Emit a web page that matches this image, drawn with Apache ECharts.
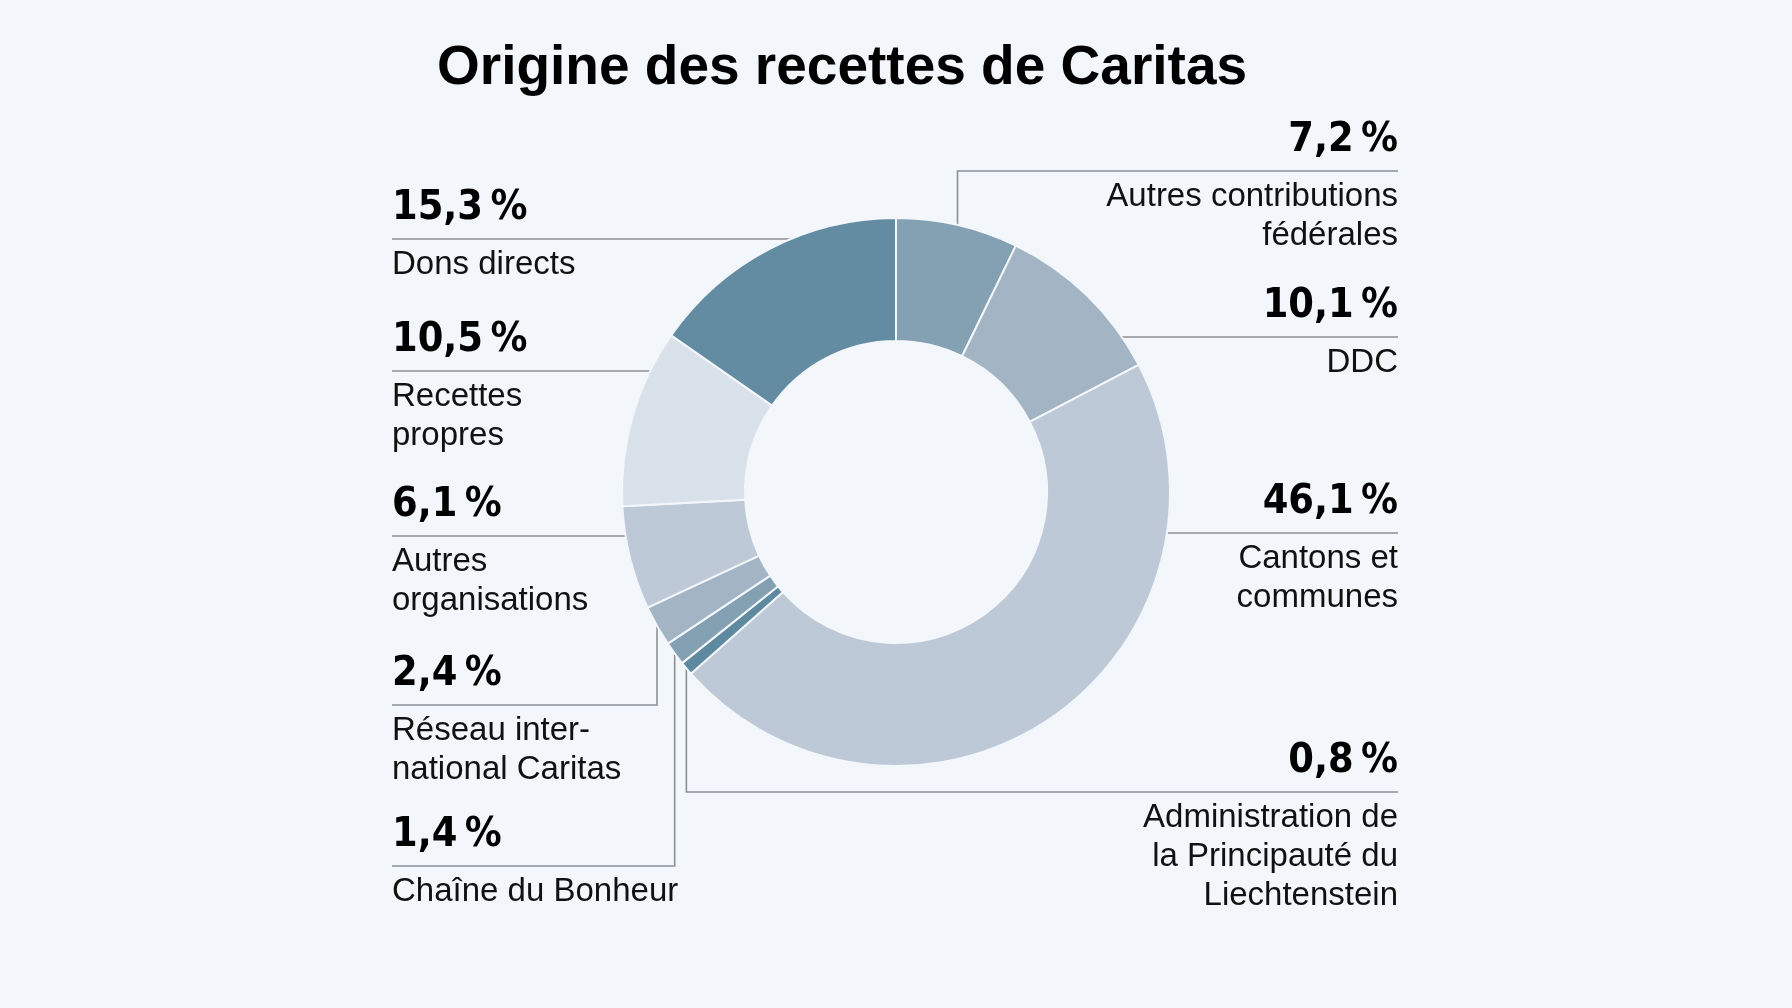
<!DOCTYPE html>
<html>
<head>
<meta charset="utf-8">
<title>Origine des recettes de Caritas</title>
<script src="https://cdn.jsdelivr.net/npm/echarts@6/dist/echarts.min.js"></script>
<style>
  html, body { margin: 0; padding: 0; background: #f3f7fc; }
  #chart { width: 1792px; height: 1008px; }
</style>
</head>
<body>
<div id="chart"></div>
<script>
// parts, clockwise from 12 o'clock
var categories = ['Autres contributions fédérales', 'DDC', 'Cantons et communes',
    'Administration de la Principauté du Liechtenstein', 'Chaîne du Bonheur',
    'Réseau international Caritas', 'Autres organisations', 'Recettes propres', 'Dons directs'];
var shares = [7.2, 10.1, 46.1, 0.8, 1.4, 2.4, 6.1, 10.5, 15.3];
// label text as it is broken in the original
var labelLines = [
    ['Autres contributions', 'fédérales'],
    ['DDC'],
    ['Cantons et', 'communes'],
    ['Administration de', 'la Principauté du', 'Liechtenstein'],
    ['Chaîne du Bonheur'],
    ['Réseau inter-', 'national Caritas'],
    ['Autres', 'organisations'],
    ['Recettes', 'propres'],
    ['Dons directs']
];
var colors = ['#84a0b3', '#a3b5c4', '#bdc9d7', '#5e8aa0', '#84a0b3', '#a3b5c4', '#bdc9d7', '#d9e1ea', '#638ca3'];

// where each label sits (y of its rule), elbow = leader goes straight down/up from the slice
var slots = [
    { side: 'right', y: 171, elbow: true },
    { side: 'right', y: 337 },
    { side: 'right', y: 533 },
    { side: 'right', y: 792, elbow: true },
    { side: 'left', y: 866, elbow: true },
    { side: 'left', y: 705, elbow: true },
    { side: 'left', y: 536 },
    { side: 'left', y: 371 },
    { side: 'left', y: 239 }
];

var CX = 896, CY = 492, R0 = 151, R1 = 274;
var LEFT_EDGE = 392, RIGHT_EDGE = 1398;
var total = shares.reduce(function (a, b) { return a + b; }, 0);

function pct(v) {
    // thin space before the percent sign, as in the print version
    return v.toFixed(1).replace('.', ',') + '\u2009%';
}

function placeLabel(params) {
    var i = params.dataIndex;
    var slot = slots[i];
    var edge = slot.side === 'right' ? RIGHT_EDGE : LEFT_EDGE;
    var pts;
    if (slot.elbow) {
        var before = 0;
        for (var k = 0; k < i; k++) before += shares[k];
        var theta = (before + shares[i] / 2) / total * Math.PI * 2;
        var sx = CX + R1 * Math.sin(theta);
        var sy = CY - R1 * Math.cos(theta);
        pts = [[sx, sy], [sx, slot.y], [edge, slot.y]];
    } else {
        var dy = slot.y - CY;
        var dx = Math.sqrt(R1 * R1 - dy * dy);
        var hx = slot.side === 'right' ? CX + dx : CX - dx;
        pts = [[hx, slot.y], [(hx + edge) / 2, slot.y], [edge, slot.y]];
    }
    return {
        x: edge,
        y: slot.y - 62,
        align: slot.side === 'right' ? 'right' : 'left',
        verticalAlign: 'top',
        labelLinePoints: pts
    };
}

var chart = echarts.init(document.getElementById('chart'));

chart.setOption({
    backgroundColor: '#f3f7fc',
    animation: false,
    title: {
        text: 'Origine des recettes de Caritas',
        left: 432,
        top: 36,
        textStyle: {
            fontFamily: 'Liberation Sans, Arial, sans-serif',
            fontSize: 55,
            fontWeight: 'bold',
            color: '#000'
        }
    },
    series: [{
        type: 'pie',
        center: [CX, CY],
        radius: [R0, R1],
        startAngle: 90,
        clockwise: true,
        avoidLabelOverlap: false,
        emphasis: { disabled: true },
        itemStyle: { borderColor: '#f3f7fc', borderWidth: 2 },
        data: categories.map(function (c, i) {
            return { name: c, value: shares[i], itemStyle: { color: colors[i] } };
        }),
        label: {
            show: true,
            position: 'outside',
            formatter: function (p) {
                var lines = labelLines[p.dataIndex].map(function (t) { return '{n|' + t + '}'; });
                return '{p|' + pct(p.value) + '}\n{s| }\n' + lines.join('\n');
            },
            rich: {
                p: {
                    fontFamily: 'Liberation Sans Narrow, DejaVu Sans Condensed, Liberation Sans, sans-serif',
                    fontSize: 41,
                    fontWeight: 'bold',
                    lineHeight: 62,
                    color: '#000'
                },
                s: { fontSize: 1, lineHeight: 6 },
                n: {
                    fontFamily: 'Liberation Sans, Arial, sans-serif',
                    fontSize: 33,
                    lineHeight: 39,
                    color: '#111'
                }
            }
        },
        labelLine: {
            show: true,
            smooth: false,
            lineStyle: { color: '#8c9196', width: 1.6 }
        },
        labelLayout: placeLabel
    }]
});
</script>
</body>
</html>
